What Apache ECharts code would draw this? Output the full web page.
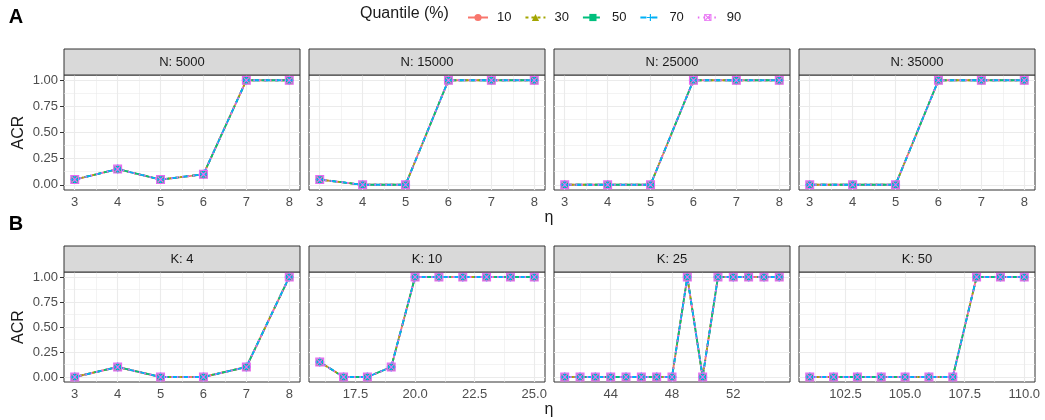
<!DOCTYPE html>
<html><head><meta charset="utf-8">
<script src="https://cdn.jsdelivr.net/npm/echarts@6/dist/echarts.min.js"></script>
<style>html,body{margin:0;padding:0;background:#fff}#c{width:1045px;height:420px}</style>
</head><body><div id="c"></div>
<script>
// ---------------- data ----------------
const quantiles = ['10', '30', '50', '70', '90'];

const etaN = [3, 4, 5, 6, 7, 8];
const acrN5000  = [0.05, 0.15, 0.05, 0.10, 1, 1];
const acrN15000 = [0.05, 0, 0, 1, 1, 1];
const acrN25000 = [0, 0, 0, 1, 1, 1];
const acrN35000 = [0, 0, 0, 1, 1, 1];

const etaK4  = [3, 4, 5, 6, 7, 8];
const acrK4  = [0, 0.10, 0, 0, 0.10, 1];
const etaK10 = [16, 17, 18, 19, 20, 21, 22, 23, 24, 25];
const acrK10 = [0.15, 0, 0, 0.10, 1, 1, 1, 1, 1, 1];
const etaK25 = [41, 42, 43, 44, 45, 46, 47, 48, 49, 50, 51, 52, 53, 54, 55];
const acrK25 = [0, 0, 0, 0, 0, 0, 0, 0, 1, 0, 1, 1, 1, 1, 1];
const etaK50 = [101, 102, 103, 104, 105, 106, 107, 108, 109, 110];
const acrK50 = [0, 0, 0, 0, 0, 0, 0, 1, 1, 1];

// tick values / labels
const yTicks = [0, 0.25, 0.5, 0.75, 1];
const yTickLabels = ['0.00', '0.25', '0.50', '0.75', '1.00'];
const yMinor = [0.125, 0.375, 0.625, 0.875];

const xTicksInt = [3, 4, 5, 6, 7, 8];
const xTickLabelsInt = ['3', '4', '5', '6', '7', '8'];
const xMinorInt = [3.5, 4.5, 5.5, 6.5, 7.5];
const xTicksK10 = [17.5, 20, 22.5, 25];
const xTickLabelsK10 = ['17.5', '20.0', '22.5', '25.0'];
const xMinorK10 = [16.25, 18.75, 21.25, 23.75];
const xTicksK25 = [44, 48, 52];
const xTickLabelsK25 = ['44', '48', '52'];
const xMinorK25 = [42, 46, 50, 54];
const xTicksK50 = [102.5, 105, 107.5, 110];
const xTickLabelsK50 = ['102.5', '105.0', '107.5', '110.0'];
const xMinorK50 = [101.25, 103.75, 106.25, 108.75];

const panels = [
  {row: 0, col: 0, title: 'N: 5000',  x: etaN, y: acrN5000,  ticks: xTicksInt, labels: xTickLabelsInt, minor: xMinorInt},
  {row: 0, col: 1, title: 'N: 15000', x: etaN, y: acrN15000, ticks: xTicksInt, labels: xTickLabelsInt, minor: xMinorInt},
  {row: 0, col: 2, title: 'N: 25000', x: etaN, y: acrN25000, ticks: xTicksInt, labels: xTickLabelsInt, minor: xMinorInt},
  {row: 0, col: 3, title: 'N: 35000', x: etaN, y: acrN35000, ticks: xTicksInt, labels: xTickLabelsInt, minor: xMinorInt},
  {row: 1, col: 0, title: 'K: 4',  x: etaK4,  y: acrK4,  ticks: xTicksInt, labels: xTickLabelsInt, minor: xMinorInt},
  {row: 1, col: 1, title: 'K: 10', x: etaK10, y: acrK10, ticks: xTicksK10, labels: xTickLabelsK10, minor: xMinorK10},
  {row: 1, col: 2, title: 'K: 25', x: etaK25, y: acrK25, ticks: xTicksK25, labels: xTickLabelsK25, minor: xMinorK25},
  {row: 1, col: 3, title: 'K: 50', x: etaK50, y: acrK50, ticks: xTicksK50, labels: xTickLabelsK50, minor: xMinorK50}
];

// ---------------- styles ----------------
const FONT = '"Liberation Sans", Arial, sans-serif';
const colors = {'10': '#F8766D', '30': '#A3A500', '50': '#00BF7D', '70': '#00B0F6', '90': '#E76BF3'};
const symbols = {
  '10': 'circle',
  '30': 'triangle',
  '50': 'rect',
  '70': 'path://M4.2,0H5.8V10H4.2Z M0,4.2H10V5.8H0Z',
  '90': 'path://M0,0H10V10H0Z M1.3,1.3V8.7H8.7V1.3Z M1.3,2.3L2.3,1.3L8.7,7.7L7.7,8.7Z M7.7,1.3L8.7,2.3L2.3,8.7L1.3,7.7Z'
};
const symbolSizes = {'10': 7, '30': 8, '50': 7, '70': 9, '90': 9};
const dashes = {'10': 'solid', '30': [3, 3], '50': [7, 3], '70': [6, 5], '90': [1.5, 4]};

const colLeft = [64, 309, 554, 799];
const panelW = 236;
const rowTop = [75, 272];
const rowH = [115, 110];
const stripH = 26;

const grids = [], xAxes = [], yAxes = [], series = [], graphics = [];

panels.forEach((p, i) => {
  const left = colLeft[p.col], top = rowTop[p.row], h = rowH[p.row];
  grids.push({left: left, top: top, width: panelW, height: h, show: true,
    borderColor: '#333333', borderWidth: 1, backgroundColor: '#ffffff', containLabel: false});
  const span = p.x[p.x.length - 1] - p.x[0];
  xAxes.push({
    type: 'value', gridIndex: i,
    min: p.x[0] - 0.05 * span, max: p.x[p.x.length - 1] + 0.05 * span,
    axisLine: {show: false},
    axisTick: {show: true, length: 4, lineStyle: {color: '#333333', width: 1}, customValues: p.ticks},
    axisLabel: {show: true, customValues: p.ticks, margin: 6, color: '#4d4d4d', fontSize: 13, fontFamily: FONT,
      formatter: (v) => { const k = p.ticks.indexOf(v); return k >= 0 ? p.labels[k] : ''; }},
    splitLine: {show: false}, minorSplitLine: {show: false}
  });
  const showY = p.col === 0;
  yAxes.push({
    type: 'value', gridIndex: i, min: -0.05, max: 1.05,
    axisLine: {show: false},
    axisTick: {show: showY, length: 4, lineStyle: {color: '#333333', width: 1}, customValues: yTicks},
    axisLabel: {show: showY, customValues: yTicks, margin: 6, color: '#4d4d4d', fontSize: 13, fontFamily: FONT,
      formatter: (v) => { const k = yTicks.indexOf(v); return k >= 0 ? yTickLabels[k] : ''; }},
    splitLine: {show: false}
  });
  // grid lines (from tick arrays, positioned by the axes)
  const ml = [];
  yMinor.forEach(v => ml.push({yAxis: v, lineStyle: {color: '#ebebeb', width: 0.6, type: 'solid'}}));
  p.minor.forEach(v => ml.push({xAxis: v, lineStyle: {color: '#ebebeb', width: 0.6, type: 'solid'}}));
  yTicks.forEach(v => ml.push({yAxis: v, lineStyle: {color: '#ebebeb', width: 1.1, type: 'solid'}}));
  p.ticks.forEach(v => ml.push({xAxis: v, lineStyle: {color: '#ebebeb', width: 1.1, type: 'solid'}}));
  series.push({
    type: 'line', name: 'grid' + i, xAxisIndex: i, yAxisIndex: i, data: [], silent: true, z: 1,
    markLine: {silent: true, z: 1, symbol: ['none', 'none'], label: {show: false}, animation: false,
      emphasis: {disabled: true}, data: ml}
  });
  // strip
  graphics.push({type: 'rect', shape: {x: left, y: top - stripH, width: panelW, height: stripH},
    style: {fill: '#d9d9d9', stroke: '#333333', lineWidth: 1}, z: 10});
  graphics.push({type: 'text', x: left + panelW / 2, y: top - stripH / 2,
    style: {text: p.title, fill: '#1a1a1a', font: '13px ' + FONT, align: 'center', verticalAlign: 'middle'}, z: 11});
});

quantiles.forEach(q => {
  panels.forEach((p, i) => {
    series.push({
      type: 'line', name: q, xAxisIndex: i, yAxisIndex: i,
      data: p.x.map((xv, k) => [xv, p.y[k]]),
      symbol: symbols[q], symbolSize: symbolSizes[q], showSymbol: true, clip: false,
      lineStyle: {color: colors[q], width: 1.8, type: dashes[q]},
      itemStyle: {color: colors[q], borderWidth: 0},
      emphasis: {disabled: true}, z: 3
    });
  });
});

// texts
graphics.push({type: 'text', x: 16, y: 17, style: {text: 'A', fill: '#000', font: 'bold 20px ' + FONT, align: 'center', verticalAlign: 'middle'}});
graphics.push({type: 'text', x: 16, y: 224, style: {text: 'B', fill: '#000', font: 'bold 20px ' + FONT, align: 'center', verticalAlign: 'middle'}});
graphics.push({type: 'text', x: 360, y: 14, style: {text: 'Quantile (%)', fill: '#1a1a1a', font: '16px ' + FONT, align: 'left', verticalAlign: 'middle'}});
[0, 1].forEach(r => {
  graphics.push({type: 'text', x: 19, y: rowTop[r] + rowH[r] / 2, rotation: Math.PI / 2,
    style: {text: 'ACR', fill: '#1a1a1a', font: '16px ' + FONT, align: 'center', verticalAlign: 'middle'}});
});
graphics.push({type: 'text', x: 549, y: 218, style: {text: 'η', fill: '#1a1a1a', font: '16px ' + FONT, align: 'center', verticalAlign: 'middle'}});
graphics.push({type: 'text', x: 549, y: 410, style: {text: 'η', fill: '#1a1a1a', font: '16px ' + FONT, align: 'center', verticalAlign: 'middle'}});

const chart = echarts.init(document.getElementById('c'), null, {renderer: 'canvas'});
chart.setOption({
  animation: false,
  backgroundColor: '#ffffff',
  grid: grids, xAxis: xAxes, yAxis: yAxes,
  legend: {data: quantiles, left: 462, top: 6, itemWidth: 20, itemHeight: 9, itemGap: 13,
    textStyle: {fontSize: 13, color: '#1a1a1a', fontFamily: FONT, padding: [0, 0, 0, 4]}},
  graphic: graphics,
  series: series
});
</script></body></html>
